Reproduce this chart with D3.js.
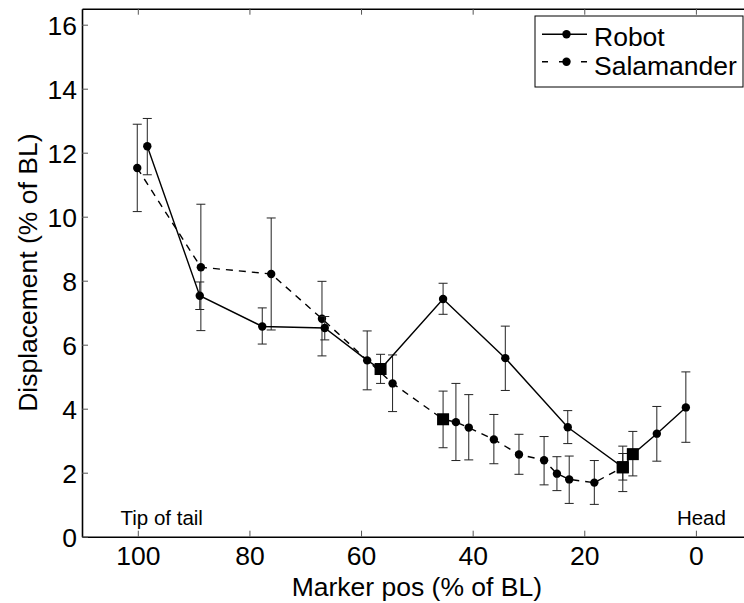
<!DOCTYPE html>
<html>
<head>
<meta charset="utf-8">
<script src="https://cdn.jsdelivr.net/npm/d3@7"></script>
<style>
html,body{margin:0;padding:0;background:#fff;}
svg{display:block;font-family:"Liberation Sans",Arial,sans-serif;}
</style>
</head>
<body>
<svg id="chart" width="744" height="603"></svg>
<script>
// ---- data ----
const robotPos   = [98.3, 88.9, 77.7, 66.5, 58.9, 56.5, 45.3, 34.15, 22.96, 13.1, 11.3, 7.0, 1.8];
const robotVal   = [12.2, 7.53, 6.57, 6.52, 5.51, 5.24, 7.43, 5.58, 3.42, 2.17, 2.58, 3.22, 4.04];
const robotHi    = [13.07, 7.96, 7.15, 6.88, 6.43, 5.70, 7.92, 6.58, 3.94, 2.60, 3.29, 4.07, 5.15];
const robotLo    = [11.31, 7.10, 6.02, 6.15, 4.59, 4.79, 6.95, 4.57, 2.91, 1.77, 1.90, 2.36, 2.95];
const robotSq    = [0, 0, 0, 0, 0, 1, 0, 0, 0, 1, 1, 0, 0];

const salPos     = [100.1, 88.7, 76.1, 67.0, 54.35, 45.3, 43.0, 40.7, 36.2, 31.7, 27.2, 24.9, 22.7, 18.2, 13.1];
const salVal     = [11.52, 8.42, 8.21, 6.81, 4.79, 3.67, 3.58, 3.41, 3.04, 2.57, 2.39, 1.97, 1.79, 1.69, 2.17];
const salHi      = [12.89, 10.39, 9.96, 7.98, 5.68, 4.55, 4.79, 4.44, 3.82, 3.20, 3.13, 2.50, 2.52, 2.38, 2.83];
const salLo      = [10.16, 6.44, 6.46, 5.65, 3.91, 2.78, 2.38, 2.40, 2.28, 1.95, 1.62, 1.44, 1.04, 1.01, 1.41];
const salSq      = [0, 0, 0, 0, 0, 1, 0, 0, 0, 0, 0, 0, 0, 0, 1];

const xTicks = [100, 80, 60, 40, 20, 0];
const yTicks = [0, 2, 4, 6, 8, 10, 12, 14, 16];
const seriesNames = ["Robot", "Salamander"];
const notes = [{text: "Tip of tail", x: 103.1, y: 0.37}, {text: "Head", x: 3.4, y: 0.37}];
const xTitle = "Marker pos (% of BL)";
const yTitle = "Displacement (% of BL)";

// ---- layout ----
const svg = d3.select("#chart");
const L = 82, R = 751.7, T = 8.7, B = 536.7;
const x = d3.scaleLinear().domain([110, -10]).range([L, R]);
const y = d3.scaleLinear().domain([0, 16.5]).range([B, T]);
const FS = 26.5;

// axes box
const g = svg.append("g");
const xAxis = d3.axisBottom(x).tickValues(xTicks).tickSizeInner(-6).tickSizeOuter(0).tickPadding(12).tickFormat(d3.format("d"));
const xAxisTop = d3.axisTop(x).tickValues(xTicks).tickSizeInner(-6).tickSizeOuter(0).tickFormat("");
const yAxis = d3.axisLeft(y).tickValues(yTicks).tickSizeInner(-6).tickSizeOuter(0).tickPadding(5).tickFormat(d3.format("d"));

const gx = g.append("g").attr("transform", `translate(0,${B})`).call(xAxis);
const gxt = g.append("g").attr("transform", `translate(0,${T})`).call(xAxisTop);
const gy = g.append("g").attr("transform", `translate(${L},0)`).call(yAxis);
[gx, gxt, gy].forEach(a => {
  a.select(".domain").attr("stroke", "#000").attr("stroke-width", 1.6);
  a.selectAll(".tick line").attr("stroke", "#555").attr("stroke-width", 1);
  a.selectAll(".tick text").attr("fill", "#000").style("font-size", FS + "px").style("font-family", '"Liberation Sans",Arial,sans-serif');
});
gx.selectAll(".tick text").attr("dy", null).attr("y", 28.5);
gy.selectAll(".tick text").attr("dy", "0.36em");

// titles
svg.append("text").attr("x", (L + R) / 2).attr("y", 596).attr("text-anchor", "middle")
  .style("font-size", FS + "px").text(xTitle);
svg.append("text").attr("transform", `translate(37,${(T + B) / 2}) rotate(-90)`).attr("text-anchor", "middle")
  .style("font-size", FS + "px").text(yTitle);

// annotations
notes.forEach(n => {
  svg.append("text").attr("x", x(n.x)).attr("y", y(n.y)).style("font-size", "20.5px").text(n.text);
});

function drawSeries(pos, val, hi, lo, sq, dash) {
  const pts = pos.map((p, i) => ({p, v: val[i], hi: hi[i], lo: lo[i], sq: sq[i]}));
  // error bars
  const eb = svg.append("g").attr("stroke", "#222").attr("stroke-width", 1).attr("fill", "none");
  pts.forEach(d => {
    const cx = x(d.p);
    eb.append("line").attr("x1", cx).attr("x2", cx).attr("y1", y(d.hi)).attr("y2", y(d.lo));
    eb.append("line").attr("x1", cx - 4.5).attr("x2", cx + 4.5).attr("y1", y(d.hi)).attr("y2", y(d.hi));
    eb.append("line").attr("x1", cx - 4.5).attr("x2", cx + 4.5).attr("y1", y(d.lo)).attr("y2", y(d.lo));
  });
  // line
  svg.append("path").datum(pts)
    .attr("d", d3.line().x(d => x(d.p)).y(d => y(d.v)))
    .attr("fill", "none").attr("stroke", "#000").attr("stroke-width", 1.4)
    .attr("stroke-dasharray", dash ? "7,6" : null);
  // markers
  pts.forEach(d => {
    if (d.sq) {
      svg.append("rect").attr("x", x(d.p) - 6).attr("y", y(d.v) - 6).attr("width", 12).attr("height", 12).attr("fill", "#000");
    } else {
      svg.append("circle").attr("cx", x(d.p)).attr("cy", y(d.v)).attr("r", 4.2).attr("fill", "#000");
    }
  });
}
drawSeries(salPos, salVal, salHi, salLo, salSq, true);
drawSeries(robotPos, robotVal, robotHi, robotLo, robotSq, false);

// legend
const lg = svg.append("g");
lg.append("rect").attr("x", 535).attr("y", 16).attr("width", 208).attr("height", 71)
  .attr("fill", "#fff").attr("stroke", "#000").attr("stroke-width", 1);
const legRows = [{name: seriesNames[0], dash: false, yy: 34.3, by: 45.5}, {name: seriesNames[1], dash: true, yy: 61.7, by: 74.5}];
legRows.forEach(r => {
  lg.append("line").attr("x1", 542).attr("x2", 587).attr("y1", r.yy).attr("y2", r.yy)
    .attr("stroke", "#000").attr("stroke-width", 1.4).attr("stroke-dasharray", r.dash ? "6,11,11,11" : null);
  lg.append("circle").attr("cx", 566.5).attr("cy", r.yy).attr("r", 4.2).attr("fill", "#000");
  lg.append("text").attr("x", 594).attr("y", r.by).style("font-size", FS + "px").text(r.name);
});
</script>
</body>
</html>
